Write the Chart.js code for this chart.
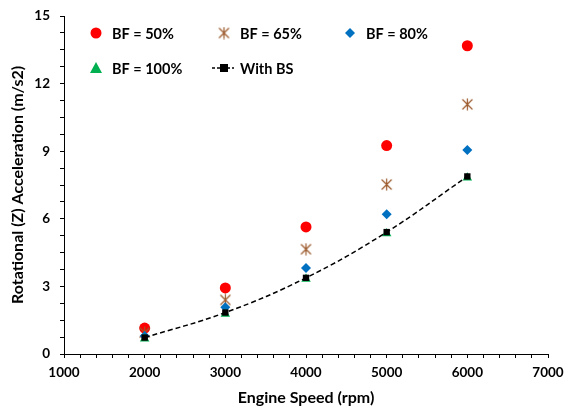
<!DOCTYPE html>
<html>
<head>
<meta charset="utf-8">
<script src="https://cdn.jsdelivr.net/npm/chart.js@4/dist/chart.umd.min.js"></script>
<style>
  html, body { margin: 0; padding: 0; background: #fff; }
  #wrap { width: 566px; height: 407px; }
</style>
</head>
<body>
<div id="wrap"><canvas id="myChart" width="566" height="407"></canvas></div>
<script>
const speeds = [2000, 3000, 4000, 5000, 6000];
const bf50 = [1.15, 2.93, 5.64, 9.25, 13.68];
const bf65 = [0.95, 2.40, 4.65, 7.52, 11.08];
const bf80 = [0.80, 2.08, 3.82, 6.20, 9.05];
const bf100 = [0.68, 1.78, 3.33, 5.35, 7.82];
const withBS = [0.73, 1.84, 3.38, 5.41, 7.88];
const seriesNames = ['BF = 50%', 'BF = 65%', 'BF = 80%', 'BF = 100%', 'With BS'];

const font = "Lato, 'Open Sans', sans-serif";

const toPoints = (ys) => speeds.map((x, i) => ({ x: x, y: ys[i] }));

// Excel-like star marker: X with a vertical stroke
const starCanvas = (() => {
  const c = document.createElement('canvas');
  c.width = 13; c.height = 13;
  const g = c.getContext('2d');
  g.strokeStyle = '#9C5A2C';
  g.lineWidth = 1.2;
  g.beginPath();
  g.moveTo(1.5, 1.5); g.lineTo(11.5, 11.5);
  g.moveTo(11.5, 1.5); g.lineTo(1.5, 11.5);
  g.moveTo(6.5, 0.5); g.lineTo(6.5, 12.5);
  g.stroke();
  return c;
})();

const legendPlugin = {
  id: 'insideLegend',
  afterDraw(chart) {
    const ctx = chart.ctx;
    ctx.save();
    ctx.font = 'bold 14.5px ' + font;
    ctx.textBaseline = 'middle';
    ctx.fillStyle = '#000';
    const items = [
      { x: 96, y: 33, t: seriesNames[0], m: 'circle' },
      { x: 224, y: 33, t: seriesNames[1], m: 'star' },
      { x: 350, y: 33, t: seriesNames[2], m: 'diamond' },
      { x: 96, y: 68, t: seriesNames[3], m: 'triangle' },
      { x: 224, y: 68, t: seriesNames[4], m: 'line' }
    ];
    items.forEach(it => {
      ctx.save();
      if (it.m === 'circle') {
        ctx.fillStyle = '#FF0000';
        ctx.beginPath(); ctx.arc(it.x, it.y, 5.5, 0, Math.PI * 2); ctx.fill();
      } else if (it.m === 'star') {
        ctx.drawImage(starCanvas, it.x - 6.5, it.y - 6.5);
      } else if (it.m === 'diamond') {
        ctx.fillStyle = '#0070C0';
        ctx.beginPath();
        ctx.moveTo(it.x, it.y - 5); ctx.lineTo(it.x + 5, it.y);
        ctx.lineTo(it.x, it.y + 5); ctx.lineTo(it.x - 5, it.y);
        ctx.closePath(); ctx.fill();
      } else if (it.m === 'triangle') {
        ctx.fillStyle = '#00B050';
        ctx.beginPath();
        ctx.moveTo(it.x, it.y - 6); ctx.lineTo(it.x + 6, it.y + 5);
        ctx.lineTo(it.x - 6, it.y + 5);
        ctx.closePath(); ctx.fill();
      } else {
        ctx.strokeStyle = '#000';
        ctx.lineWidth = 1.5;
        ctx.setLineDash([3, 2]);
        ctx.beginPath(); ctx.moveTo(it.x - 12, it.y); ctx.lineTo(it.x + 10, it.y); ctx.stroke();
        ctx.fillStyle = '#000';
        ctx.fillRect(it.x - 4, it.y - 4, 8, 8);
      }
      ctx.restore();
      ctx.fillText(it.t, it.x + 16, it.y + 1);
    });
    ctx.restore();
  }
};

new Chart(document.getElementById('myChart'), {
  type: 'scatter',
  data: {
    datasets: [
      {
        label: seriesNames[4], data: toPoints(withBS), order: 0,
        showLine: true, borderColor: '#000', borderWidth: 1.5, borderDash: [5, 3],
        tension: 0.4, pointStyle: 'rect', pointRadius: 4.5,
        backgroundColor: '#000', pointBorderColor: '#000', pointBorderWidth: 0
      },
      {
        label: seriesNames[3], data: toPoints(bf100), order: 1,
        pointStyle: 'triangle', pointRadius: 5.5,
        backgroundColor: '#00B050', borderColor: '#00B050', borderWidth: 0
      },
      {
        label: seriesNames[2], data: toPoints(bf80), order: 2,
        pointStyle: 'rectRot', pointRadius: 5,
        backgroundColor: '#0070C0', borderColor: '#0070C0', borderWidth: 0
      },
      {
        label: seriesNames[1], data: toPoints(bf65), order: 3,
        pointStyle: starCanvas, pointRadius: 6
      },
      {
        label: seriesNames[0], data: toPoints(bf50), order: 4,
        pointStyle: 'circle', pointRadius: 5.5,
        backgroundColor: '#FF0000', borderColor: '#FF0000', borderWidth: 0
      }
    ]
  },
  options: {
    responsive: false,
    animation: false,
    layout: { padding: { left: 0, top: 16, right: 18, bottom: 0 } },
    plugins: {
      legend: { display: false },
      tooltip: { enabled: false }
    },
    scales: {
      x: {
        type: 'linear', min: 1000, max: 7000,
        afterFit: (s) => { s.height = 53; s.paddingLeft = 0; s.paddingRight = 0; },
        ticks: {
          stepSize: 200, autoSkip: false, maxRotation: 0, padding: 7,
          color: '#000', font: { family: font, size: 13.5, weight: 'bold' },
          callback: (v) => (Math.round(v) % 1000 === 0 ? String(Math.round(v)) : '')
        },
        grid: { display: true, drawOnChartArea: false, drawTicks: true, tickLength: 4, color: '#000' },
        border: { color: '#000', width: 1 },
        title: {
          display: true, text: 'Engine Speed (rpm)', color: '#000',
          font: { family: font, size: 16, weight: 'bold' }, padding: { top: 0, bottom: 0 }
        }
      },
      y: {
        min: 0, max: 15,
        afterFit: (s) => { s.width = 64; s.paddingTop = 0; s.paddingBottom = 0; },
        ticks: {
          stepSize: 0.75, autoSkip: false, padding: 10,
          color: '#000', font: { family: font, size: 13.5, weight: 'bold' },
          callback: (v) => {
            const r = Math.round(v * 100) / 100;
            return Math.abs(r / 3 - Math.round(r / 3)) < 1e-6 ? String(Math.round(r)) : '';
          }
        },
        grid: { display: true, drawOnChartArea: false, drawTicks: true, tickLength: 4, color: '#000' },
        border: { color: '#000', width: 1 },
        title: {
          display: true, text: 'Rotational (Z) Acceleration (m/s2)', color: '#000',
          font: { family: font, size: 16, weight: 'bold' }, padding: { top: 8, bottom: 0 }
        }
      }
    }
  },
  plugins: [legendPlugin]
});
</script>
</body>
</html>
